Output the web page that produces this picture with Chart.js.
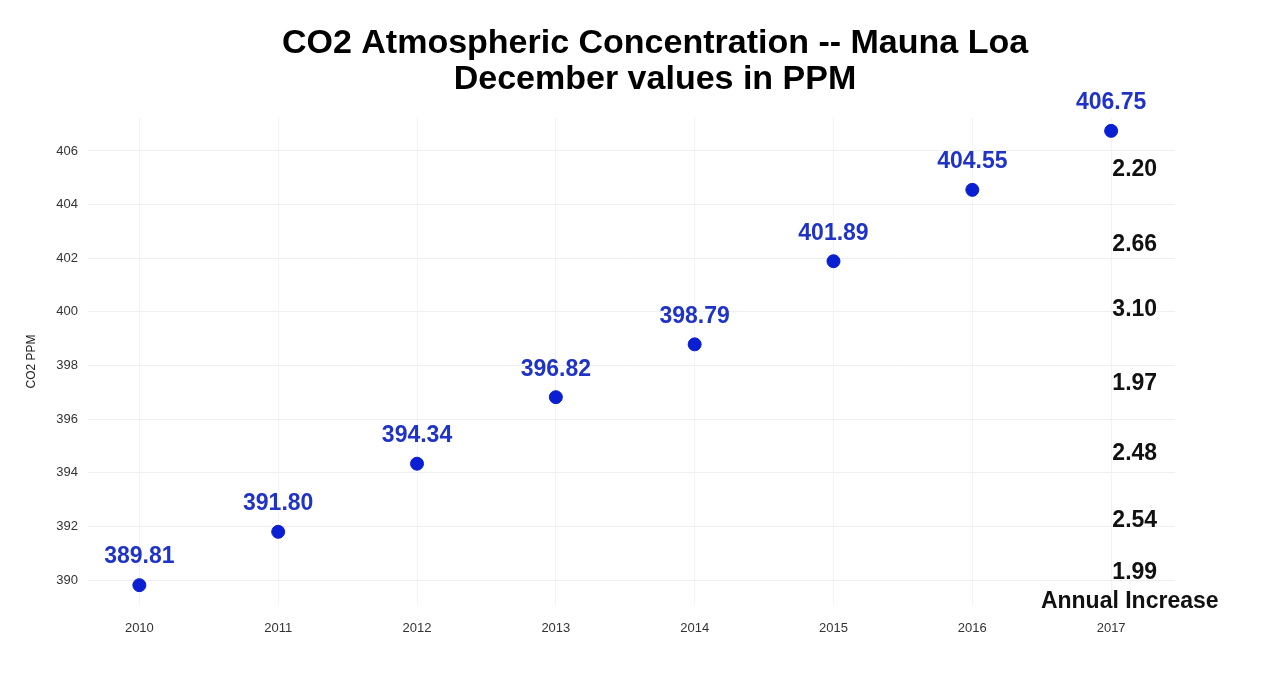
<!DOCTYPE html>
<html>
<head>
<meta charset="utf-8">
<script src="https://cdn.jsdelivr.net/npm/chart.js@4"></script>
<style>
  body { margin: 0; background: #fff; }
</style>
</head>
<body>
<canvas id="co2Chart" width="1274" height="682"></canvas>
<script>
// Декабрьские значения CO2 (Мауна-Лоа)
const years = [2010, 2011, 2012, 2013, 2014, 2015, 2016, 2017];
const ppmValues = [389.81, 391.80, 394.34, 396.82, 398.79, 401.89, 404.55, 406.75];
const yTickValues = [390, 392, 394, 396, 398, 400, 402, 404, 406];

// Годовой прирост, подписи справа (значение и уровень по оси Y)
const increaseLabels = ["2.20", "2.66", "3.10", "1.97", "2.48", "2.54", "1.99"];
const increaseLevels = [405.29, 402.49, 400.07, 397.34, 394.73, 392.23, 390.29];
const increaseTitle = "Annual Increase";
const increaseTitleLevel = 389.21;
const increaseColumnX = 2017.17;

const titleLines = ['CO2 Atmospheric Concentration -- Mauna Loa', 'December values in PPM'];

const labelPlugin = {
    id: 'labelPlugin',
    afterDraw(chart) {
        const ctx = chart.ctx;
        const xs = chart.scales.x;
        const ys = chart.scales.y;
        ctx.save();
        ctx.textAlign = 'center';
        ctx.textBaseline = 'middle';

        // заголовок
        ctx.fillStyle = '#000';
        ctx.font = 'bold 34px "Liberation Sans", Arial, sans-serif';
        titleLines.forEach((line, i) => {
            ctx.fillText(line, 655, 44 + i * 36);
        });

        // подписи точек
        ctx.fillStyle = '#1f33c6';
        ctx.font = 'bold 23px "Liberation Sans", Arial, sans-serif';
        const meta = chart.getDatasetMeta(0);
        meta.data.forEach((pt, i) => {
            ctx.fillText(ppmValues[i].toFixed(2), pt.x, pt.y - 28);
        });

        // колонка прироста
        ctx.fillStyle = '#111';
        const colX = xs.getPixelForValue(increaseColumnX);
        increaseLabels.forEach((txt, i) => {
            ctx.fillText(txt, colX, ys.getPixelForValue(increaseLevels[i]));
        });
        ctx.fillText(increaseTitle, colX - 5, ys.getPixelForValue(increaseTitleLevel));
        ctx.restore();
    }
};

const ctx = document.getElementById('co2Chart').getContext('2d');
new Chart(ctx, {
    type: 'scatter',
    data: {
        datasets: [{
            label: 'CO2 PPM',
            data: years.map((y, i) => ({ x: y, y: ppmValues[i] })),
            backgroundColor: '#0a1ed2',
            borderColor: '#0a1ed2',
            pointRadius: 6.5,
            pointHoverRadius: 6.5
        }]
    },
    options: {
        responsive: false,
        animation: false,
        layout: {
            padding: { left: 20, right: 99, top: 118, bottom: 0 }
        },
        scales: {
            x: {
                type: 'linear',
                min: 2009.63,
                max: 2017.46,
                afterBuildTicks(scale) {
                    scale.ticks = years.map(v => ({ value: v }));
                },
                afterFit(scale) {
                    scale.height = 77;
                },
                grid: { color: '#f3f3f3', drawTicks: false },
                border: { display: false },
                ticks: {
                    padding: 16,
                    color: '#333',
                    font: { family: '"Liberation Sans", sans-serif', size: 13 },
                    callback: v => String(v)
                }
            },
            y: {
                min: 389.07,
                max: 407.23,
                afterBuildTicks(scale) {
                    scale.ticks = yTickValues.map(v => ({ value: v }));
                },
                afterFit(scale) {
                    scale.width = 68;
                },
                grid: { color: '#efefef', drawTicks: false },
                border: { display: false },
                title: {
                    display: true,
                    text: 'CO2 PPM',
                    color: '#222',
                    font: { family: '"Liberation Sans", sans-serif', size: 12 }
                },
                ticks: {
                    padding: 10,
                    color: '#333',
                    font: { family: '"Liberation Sans", sans-serif', size: 13 }
                }
            }
        },
        plugins: {
            legend: { display: false },
            tooltip: { enabled: false },
            title: { display: false }
        }
    },
    plugins: [labelPlugin]
});
</script>
</body>
</html>
